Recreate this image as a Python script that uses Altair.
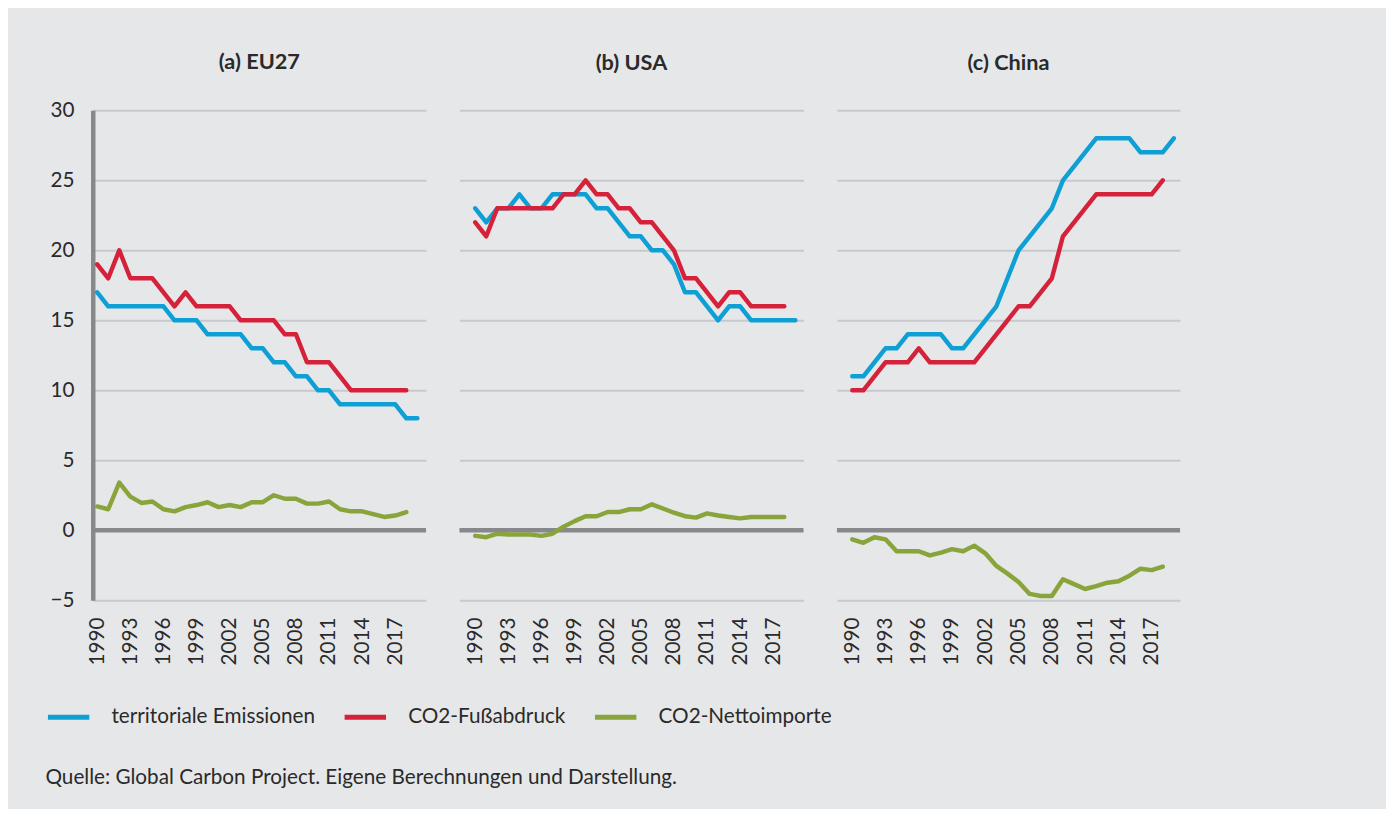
import altair as alt
import pandas as pd

years_long = list(range(1990, 2020))   # 30 Jahre
years_short = list(range(1990, 2019))  # 29 Jahre

series_names = ["territoriale Emissionen", "CO2-Fußabdruck", "CO2-Nettoimporte"]
series_colors = ["#0e9fd4", "#d6213a", "#8aa43c"]

eu_terr = [17, 16, 16, 16, 16, 16, 16, 15, 15, 15, 14, 14, 14, 14, 13, 13, 12, 12, 11, 11, 10, 10, 9, 9, 9, 9, 9, 9, 8, 8]
eu_foot = [19, 18, 20, 18, 18, 18, 17, 16, 17, 16, 16, 16, 16, 15, 15, 15, 15, 14, 14, 12, 12, 12, 11, 10, 10, 10, 10, 10, 10]
eu_net = [1.7, 1.5, 3.4, 2.4, 1.95, 2.05, 1.5, 1.35, 1.65, 1.8, 2.0, 1.65, 1.8, 1.65, 2.0, 2.0, 2.5, 2.25, 2.25, 1.9, 1.9, 2.05, 1.5, 1.35, 1.35, 1.15, 0.95, 1.05, 1.3]

us_terr = [23, 22, 23, 23, 24, 23, 23, 24, 24, 24, 24, 23, 23, 22, 21, 21, 20, 20, 19, 17, 17, 16, 15, 16, 16, 15, 15, 15, 15, 15]
us_foot = [22, 21, 23, 23, 23, 23, 23, 23, 24, 24, 25, 24, 24, 23, 23, 22, 22, 21, 20, 18, 18, 17, 16, 17, 17, 16, 16, 16, 16]
us_net = [-0.4, -0.5, -0.25, -0.3, -0.3, -0.3, -0.4, -0.25, 0.25, 0.65, 1.0, 1.0, 1.3, 1.3, 1.5, 1.5, 1.85, 1.55, 1.25, 1.0, 0.9, 1.2, 1.05, 0.95, 0.85, 0.95, 0.95, 0.95, 0.95]

cn_terr = [11, 11, 12, 13, 13, 14, 14, 14, 14, 13, 13, 14, 15, 16, 18, 20, 21, 22, 23, 25, 26, 27, 28, 28, 28, 28, 27, 27, 27, 28]
cn_foot = [10, 10, 11, 12, 12, 12, 13, 12, 12, 12, 12, 12, 13, 14, 15, 16, 16, 17, 18, 21, 22, 23, 24, 24, 24, 24, 24, 24, 25]
cn_net = [-0.65, -0.9, -0.5, -0.65, -1.5, -1.5, -1.5, -1.8, -1.6, -1.35, -1.5, -1.1, -1.65, -2.55, -3.1, -3.7, -4.55, -4.7, -4.7, -3.5, -3.85, -4.2, -4.0, -3.75, -3.65, -3.25, -2.75, -2.85, -2.6]

panel_titles = ["(a) EU27", "(b) USA", "(c) China"]
x_tick_values = list(range(1990, 2018, 3))
y_tick_values = [-5, 0, 5, 10, 15, 20, 25, 30]
source_text = "Quelle: Global Carbon Project. Eigene Berechnungen und Darstellung."

FONT = "Lato, 'Liberation Sans', sans-serif"
TEXT = "#2a2a2a"
GRID = "#c8c9cc"
AXIS = "#87888b"


def frame(region, terr, foot, net):
    rows = []
    for yr, v in zip(years_long, terr):
        rows.append({"region": region, "year": yr, "value": v, "series": series_names[0]})
    for yr, v in zip(years_short, foot):
        rows.append({"region": region, "year": yr, "value": v, "series": series_names[1]})
    for yr, v in zip(years_short, net):
        rows.append({"region": region, "year": yr, "value": v, "series": series_names[2]})
    return pd.DataFrame(rows)


frames = [
    frame("EU27", eu_terr, eu_foot, eu_net),
    frame("USA", us_terr, us_foot, us_net),
    frame("China", cn_terr, cn_foot, cn_net),
]

x_domains = [[1989.598, 2019.777], [1988.571, 2019.732], [1988.622, 2019.556]]
widths = [338, 349, 348]
title_offsets = [25.5, 36, 36]

color = alt.Color(
    "series:N",
    scale=alt.Scale(domain=series_names, range=series_colors),
    sort=series_names,
    legend=alt.Legend(
        title=None,
        orient="none",
        legendX=-48,
        legendY=592,
        direction="horizontal",
        symbolType="stroke",
        symbolSize=1764,
        symbolStrokeWidth=5,
        labelFontSize=21,
        labelFont=FONT,
        labelColor=TEXT,
        labelOffset=20,
        labelLimit=0,
        columnPadding=19,
    ),
)

panels = []
for i, df in enumerate(frames):
    first = i == 0
    yaxis = alt.Axis(
        values=y_tick_values,
        labels=first,
        labelFontSize=21,
        labelFont=FONT,
        labelColor=TEXT,
        labelPadding=19,
        domain=first,
        domainColor=AXIS,
        domainWidth=4.5,
        ticks=False,
        grid=True,
        gridColor=GRID,
        gridWidth=2,
        title=None,
    )
    xaxis = alt.Axis(
        values=x_tick_values,
        format="d",
        labelAngle=-90,
        labelFontSize=21,
        labelFont=FONT,
        labelColor=TEXT,
        labelPadding=17,
        domain=False,
        ticks=False,
        grid=False,
        title=None,
    )
    zero = alt.Chart(pd.DataFrame({"z": [0]})).mark_rule(color=AXIS, strokeWidth=4.5).encode(
        y=alt.Y("z:Q", scale=alt.Scale(domain=[-5, 30], nice=False), axis=yaxis)
    )
    lines = alt.Chart(df).mark_line(strokeWidth=4.5, strokeCap="round", strokeJoin="round").encode(
        x=alt.X("year:Q", scale=alt.Scale(domain=x_domains[i], nice=False, zero=False), axis=xaxis),
        y=alt.Y("value:Q", scale=alt.Scale(domain=[-5, 30], nice=False), axis=yaxis),
        color=color,
    )
    panel = alt.layer(zero, lines).properties(
        width=widths[i],
        height=497,
        title=alt.TitleParams(
            text=panel_titles[i],
            font=FONT,
            fontSize=22,
            fontWeight="bold",
            color=TEXT,
            anchor="middle",
            frame="group",
            offset=title_offsets[i],
        ),
    )
    panels.append(panel)

chart = alt.hconcat(*panels, spacing=28).properties(
    title=alt.TitleParams(
        text=source_text,
        orient="bottom",
        anchor="start",
        font=FONT,
        fontSize=21,
        fontWeight="normal",
        color=TEXT,
        offset=40,
    ),
    background="#e6e7e9",
    padding={"left": 38, "top": 38, "right": 206, "bottom": 16},
).configure_view(stroke=None)

chart.save("out.html", embed_options={"renderer": "svg", "actions": False})
